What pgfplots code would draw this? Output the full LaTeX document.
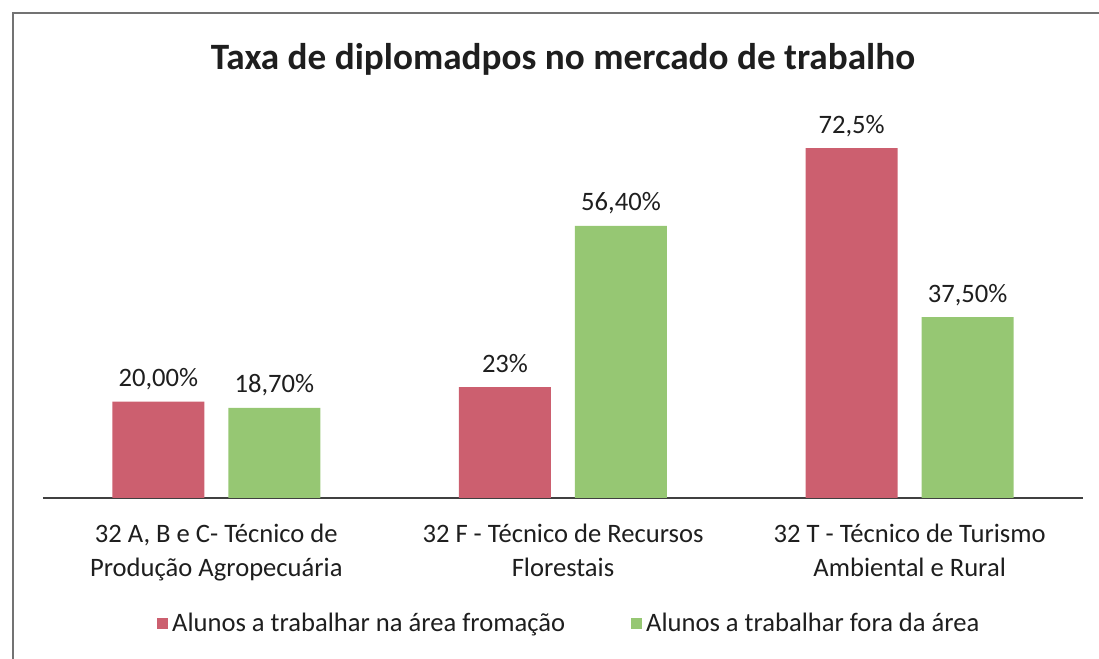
\documentclass[border=0pt]{standalone}
\usepackage{pgfplots}
\pgfplotsset{compat=1.18}
\usepackage{fontspec}
\setmainfont{Carlito}
\definecolor{barred}{RGB}{204,95,111}
\definecolor{bargreen}{RGB}{150,199,115}
\definecolor{txt}{RGB}{30,30,30}
\begin{document}
\begin{tikzpicture}
\path[use as bounding box] (0pt,0pt) rectangle (549.5pt,329.5pt);
\draw[black!55, line width=1.2pt] (6.5pt,0pt) -- (6.5pt,323pt) -- (549.5pt,323pt);
\node[anchor=base, font=\fontsize{18.6}{22}\selectfont\bfseries, text=txt] at (281.5pt,294.5pt) {Taxa de diplomadpos no mercado de trabalho};
\begin{axis}[
  at={(21.5pt,80.5pt)}, anchor=south west,
  scale only axis, width=520pt, height=193pt,
  xmin=-0.5, xmax=2.5, ymin=0, ymax=80,
  axis x line=bottom, axis y line=none,
  axis line style={draw=black!75, line width=0.8pt, -},
  ybar=12pt, bar width=46pt,
  xtick={0,1,2},
  xticklabels={{32 A, B e C- Técnico de\\Produção Agropecuária},{32 F - Técnico de Recursos\\Florestais},{32 T - Técnico de Turismo\\Ambiental e Rural}},
  major tick length=0pt,
  xticklabel style={font=\fontsize{13.3}{17}\selectfont, align=center, text=txt, yshift=-9.5pt},
  nodes near coords,
  point meta=explicit symbolic,
  every node near coord/.append style={anchor=base, yshift=7.5pt, inner sep=0pt, font=\fontsize{13.3}{16}\selectfont, text=txt},
  legend columns=2,
  legend style={at={(0.507,-0.326)}, anchor=center, draw=none, fill=none,
    font=\fontsize{13.3}{16}\selectfont, text=txt,
    /tikz/every even column/.append style={column sep=31pt}},
  legend image code/.code={\fill[#1] (0pt,-2.75pt) rectangle (5.5pt,2.75pt);},
]
\addplot[fill=barred, draw=none] coordinates {(0,20) [20{,}00\%] (1,23) [23\%] (2,72.5) [72{,}5\%]};
\addplot[fill=bargreen, draw=none] coordinates {(0,18.7) [18{,}70\%] (1,56.4) [56{,}40\%] (2,37.5) [37{,}50\%]};
\legend{Alunos a trabalhar na área fromação, Alunos a trabalhar fora da área}
\end{axis}
\end{tikzpicture}
\end{document}
